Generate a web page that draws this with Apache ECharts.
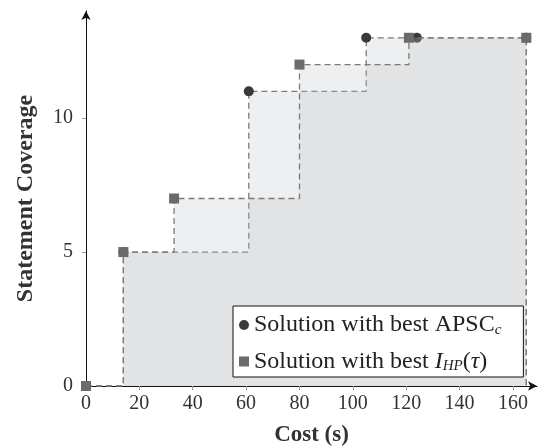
<!DOCTYPE html>
<html>
<head>
<meta charset="utf-8">
<script src="https://cdn.jsdelivr.net/npm/echarts@6/dist/echarts.min.js"></script>
<style>html,body{margin:0;padding:0;background:#fff}#c{width:540px;height:447px}</style>
</head>
<body>
<div id="c"></div>
<script>
// Data
var costAPSC = [0, 14, 61, 105, 124, 165];
var covAPSC  = [0, 5, 11, 13, 13, 13];
var costIHP  = [0, 14, 33, 80, 121, 165];
var covIHP   = [0, 5, 7, 12, 13, 13];
var xTicks = [0, 20, 40, 60, 80, 100, 120, 140, 160];
var yTicks = [0, 5, 10];
var seriesNames = ['Solution with best APSC_c', 'Solution with best I_HP(τ)'];

function buildData(xs, ys) {
  var d = xs.map(function (x, i) { return [x, ys[i]]; });
  // close the step outline down to the axis at the last cost
  d.push({ value: [xs[xs.length - 1], 0], symbol: 'none' });
  return d;
}

var FONT = '"Liberation Serif", "DejaVu Serif", serif';
var chart = echarts.init(document.getElementById('c'), null, { renderer: 'canvas' });

var areaCol = 'rgba(190,192,197,0.37)';
var lineStyle = { color: '#7a7a7a', width: 1.3, type: [6, 4] };

chart.setOption({
  animation: false,
  backgroundColor: '#fff',
  grid: { left: 86, right: 3, top: 11, bottom: 61, outerBoundsMode: 'none', containLabel: false },
  xAxis: {
    type: 'value', min: 0, max: 169,
    axisLine: { onZero: false, lineStyle: { color: '#111', width: 1 }, symbol: ['none', 'arrow'], symbolSize: [7, 9] },
    axisTick: { show: true, length: 4, lineStyle: { color: '#999' }, customValues: xTicks },
    axisLabel: { customValues: xTicks, margin: 8, fontFamily: FONT, fontSize: 20, color: '#333' },
    splitLine: { show: false },
    name: 'Cost (s)', nameLocation: 'middle', nameGap: 38,
    nameTextStyle: { fontFamily: FONT, fontSize: 23, fontWeight: 'bold', color: '#333' }
  },
  yAxis: {
    type: 'value', min: 0, max: 14,
    axisLine: { show: true, onZero: false, lineStyle: { color: '#111', width: 1 }, symbol: ['none', 'arrow'], symbolSize: [7, 9] },
    axisTick: { show: true, length: 4, lineStyle: { color: '#999' }, customValues: yTicks },
    axisLabel: { customValues: yTicks, margin: 13, fontFamily: FONT, fontSize: 20, color: '#333' },
    splitLine: { show: false },
    name: 'Statement Coverage', nameLocation: 'middle', nameGap: 48, nameRotate: 90,
    nameTextStyle: { fontFamily: FONT, fontSize: 24, fontWeight: 'bold', color: '#333' }
  },
  legend: {
    orient: 'vertical',
    left: 233, top: 306,
    backgroundColor: '#fff',
    borderColor: '#111', borderWidth: 1, borderRadius: 0,
    padding: [7, 22, 3, 6],
    itemGap: 12, itemWidth: 10, itemHeight: 10,
    textStyle: { fontFamily: FONT, fontSize: 24, color: '#222',
      rich: {
        n: { fontFamily: FONT, fontSize: 24, color: '#222' },
        sub: { fontFamily: FONT, fontSize: 15, fontStyle: 'italic', color: '#222', verticalAlign: 'bottom', padding: [10, 0, 0, 0] },
        it: { fontFamily: FONT, fontSize: 24, fontStyle: 'italic', color: '#222' }
      }
    },
    formatter: function (name) {
      if (name === seriesNames[0]) return '{n|Solution with best APSC}{sub|c}';
      return '{n|Solution with best }{it|I}{sub|HP}{n|(}{it|τ}{n|)}';
    },
    data: [
      { name: seriesNames[0], icon: 'circle' },
      { name: seriesNames[1], icon: 'rect' }
    ],
    z: 20
  },
  series: [
    {
      name: seriesNames[0], type: 'line', step: 'end',
      data: buildData(costAPSC, covAPSC),
      symbol: 'circle', symbolSize: 10,
      itemStyle: { color: '#3a3a3a' },
      lineStyle: lineStyle,
      areaStyle: { color: areaCol, origin: 'start' },
      z: 2
    },
    {
      name: seriesNames[1], type: 'line', step: 'end',
      data: buildData(costIHP, covIHP),
      symbol: 'rect', symbolSize: 10,
      itemStyle: { color: '#6b6b6b' },
      lineStyle: lineStyle,
      areaStyle: { color: areaCol, origin: 'start' },
      z: 3
    }
  ]
});
</script>
</body>
</html>
